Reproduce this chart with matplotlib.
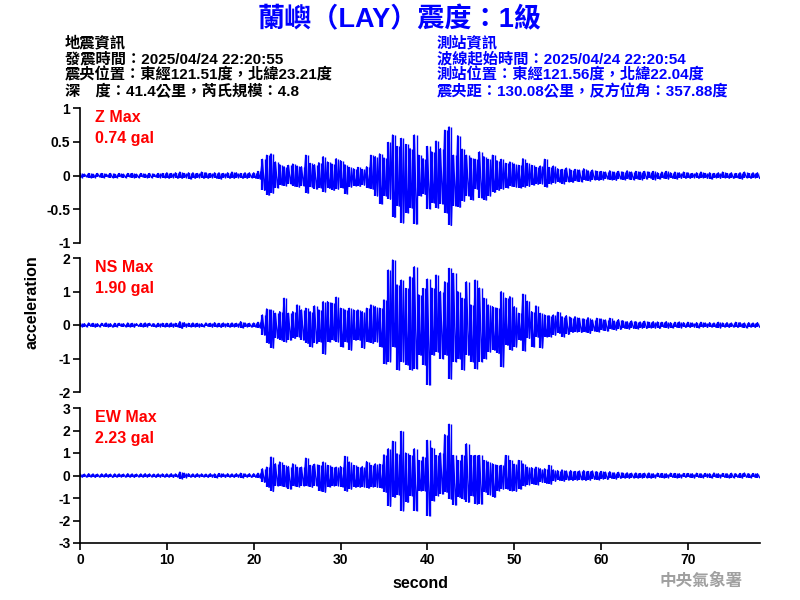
import numpy as np
import matplotlib
matplotlib.use("Agg")
import matplotlib.pyplot as plt

plt.rcParams['font.family'] = ['Liberation Sans', 'Noto Sans CJK TC', 'DejaVu Sans']

# ---- data: envelope peaks, every 0.5 s from 0 to 78 s ----
t_step = 0.5
z_up = [0.03,0.02,0.03,0.02,0.03,0.03,0.02,0.03,0.02,0.03,0.02,0.03,0.03,0.02,0.03,0.02,0.03,0.02,0.03,0.03,
        0.04,0.03,0.04,0.05,0.03,0.04,0.04,0.03,0.05,0.04,0.03,0.04,0.04,0.03,0.04,0.05,0.04,0.03,0.04,0.04,
        0.04,0.06,0.24,0.30,0.32,0.20,0.16,0.13,0.15,0.17,0.14,0.13,0.30,0.18,0.16,0.19,0.28,0.20,0.17,0.25,
        0.22,0.16,0.12,0.10,0.12,0.09,0.13,0.30,0.28,0.32,0.26,0.49,0.60,0.43,0.55,0.46,0.40,0.60,0.30,0.25,
        0.43,0.35,0.51,0.40,0.67,0.72,0.30,0.59,0.39,0.30,0.26,0.24,0.35,0.28,0.24,0.30,0.22,0.24,0.18,0.20,
        0.17,0.15,0.25,0.18,0.15,0.12,0.14,0.24,0.12,0.14,0.10,0.09,0.11,0.08,0.09,0.08,0.10,0.07,0.08,0.06,
        0.06,0.05,0.07,0.05,0.06,0.05,0.07,0.05,0.06,0.05,0.06,0.05,0.06,0.04,0.05,0.06,0.04,0.05,0.04,0.05,
        0.04,0.03,0.04,0.05,0.03,0.04,0.03,0.04,0.05,0.03,0.04,0.03,0.04,0.05,0.03,0.04,0.04]
z_lo = [-0.03,-0.02,-0.03,-0.03,-0.02,-0.03,-0.02,-0.03,-0.03,-0.02,-0.03,-0.02,-0.03,-0.03,-0.02,-0.03,-0.03,-0.02,-0.03,-0.03,
        -0.04,-0.03,-0.04,-0.04,-0.03,-0.05,-0.04,-0.03,-0.04,-0.04,-0.03,-0.04,-0.05,-0.03,-0.04,-0.04,-0.03,-0.04,-0.04,-0.03,
        -0.04,-0.05,-0.22,-0.29,-0.26,-0.18,-0.14,-0.15,-0.12,-0.16,-0.17,-0.15,-0.26,-0.17,-0.20,-0.18,-0.24,-0.19,-0.22,-0.20,
        -0.18,-0.27,-0.17,-0.15,-0.16,-0.14,-0.18,-0.20,-0.30,-0.42,-0.30,-0.35,-0.62,-0.45,-0.70,-0.55,-0.48,-0.72,-0.30,-0.28,
        -0.49,-0.40,-0.48,-0.42,-0.55,-0.74,-0.45,-0.47,-0.38,-0.30,-0.36,-0.20,-0.33,-0.36,-0.30,-0.25,-0.22,-0.20,-0.18,-0.16,
        -0.17,-0.18,-0.17,-0.16,-0.14,-0.13,-0.12,-0.17,-0.12,-0.11,-0.10,-0.12,-0.09,-0.10,-0.08,-0.09,-0.07,-0.08,-0.06,-0.07,
        -0.06,-0.05,-0.06,-0.07,-0.05,-0.06,-0.05,-0.06,-0.05,-0.06,-0.05,-0.04,-0.06,-0.05,-0.04,-0.05,-0.04,-0.05,-0.04,-0.04,
        -0.04,-0.03,-0.04,-0.03,-0.04,-0.05,-0.03,-0.04,-0.03,-0.04,-0.04,-0.03,-0.05,-0.03,-0.04,-0.03,-0.04]
ns_up = [0.05,0.04,0.06,0.05,0.04,0.05,0.06,0.04,0.05,0.05,0.04,0.06,0.05,0.04,0.05,0.06,0.05,0.04,0.05,0.05,
         0.05,0.06,0.05,0.10,0.07,0.05,0.06,0.05,0.04,0.06,0.05,0.07,0.05,0.06,0.05,0.06,0.05,0.10,0.06,0.05,
         0.06,0.08,0.30,0.48,0.45,0.35,0.40,0.80,0.35,0.40,0.60,0.45,0.50,0.40,0.57,0.45,0.70,0.70,0.65,0.83,
         0.50,0.45,0.50,0.45,0.45,0.40,0.50,0.60,0.55,0.50,0.75,1.64,1.94,1.20,1.34,1.09,1.44,1.74,0.90,1.09,
         1.37,1.10,1.49,1.00,1.29,1.69,1.54,1.00,0.80,1.29,0.60,1.34,1.10,0.80,0.60,0.55,0.50,1.00,0.80,0.85,
         0.55,0.35,0.92,0.71,0.40,0.57,0.35,0.30,0.28,0.30,0.38,0.25,0.28,0.22,0.25,0.20,0.18,0.22,0.15,0.20,
         0.18,0.15,0.20,0.12,0.16,0.13,0.10,0.12,0.10,0.09,0.11,0.08,0.10,0.09,0.08,0.10,0.07,0.08,0.09,0.07,
         0.08,0.06,0.07,0.08,0.06,0.07,0.06,0.08,0.06,0.07,0.06,0.08,0.07,0.06,0.07,0.06,0.07]
ns_lo = [-0.05,-0.05,-0.04,-0.06,-0.05,-0.04,-0.05,-0.06,-0.05,-0.04,-0.05,-0.05,-0.06,-0.04,-0.05,-0.05,-0.04,-0.06,-0.05,-0.05,
         -0.05,-0.06,-0.05,-0.10,-0.06,-0.05,-0.05,-0.06,-0.05,-0.04,-0.06,-0.05,-0.07,-0.05,-0.06,-0.05,-0.06,-0.08,-0.05,-0.06,
         -0.06,-0.08,-0.30,-0.55,-0.68,-0.40,-0.45,-0.50,-0.45,-0.40,-0.35,-0.45,-0.55,-0.65,-0.55,-0.50,-0.87,-0.50,-0.45,-0.50,
         -0.65,-0.50,-0.75,-0.45,-0.45,-0.70,-0.50,-0.55,-0.50,-0.65,-1.15,-1.09,-0.65,-1.34,-1.09,-1.19,-1.34,-1.30,-0.90,-1.19,
         -1.79,-0.90,-0.80,-1.00,-0.90,-1.61,-1.09,-1.00,-1.34,-0.90,-1.09,-1.30,-1.09,-1.00,-0.80,-0.75,-0.85,-1.24,-0.60,-0.75,
         -0.65,-0.45,-0.77,-0.40,-0.65,-0.36,-0.68,-0.35,-0.35,-0.30,-0.25,-0.35,-0.28,-0.22,-0.20,-0.22,-0.20,-0.25,-0.18,-0.20,
         -0.15,-0.18,-0.12,-0.15,-0.13,-0.10,-0.12,-0.10,-0.11,-0.09,-0.10,-0.08,-0.09,-0.10,-0.07,-0.09,-0.08,-0.07,-0.08,-0.07,
         -0.07,-0.06,-0.08,-0.06,-0.07,-0.06,-0.07,-0.08,-0.06,-0.07,-0.06,-0.07,-0.06,-0.08,-0.06,-0.07,-0.06]
ew_up = [0.07,0.06,0.08,0.07,0.06,0.07,0.08,0.06,0.07,0.07,0.06,0.08,0.07,0.06,0.07,0.08,0.07,0.06,0.07,0.07,
         0.07,0.08,0.07,0.15,0.10,0.08,0.07,0.08,0.07,0.06,0.08,0.07,0.09,0.07,0.08,0.07,0.08,0.10,0.07,0.08,
         0.08,0.10,0.30,0.37,0.82,0.52,0.60,0.45,0.40,0.52,0.37,0.37,0.77,0.45,0.50,0.45,0.60,0.45,0.37,0.37,
         0.40,0.85,0.60,0.45,0.37,0.40,0.62,0.45,0.52,0.50,0.92,1.19,1.52,0.97,1.96,1.00,0.89,1.19,0.67,0.82,
         1.56,1.22,0.89,1.00,1.82,2.28,0.89,0.67,0.90,1.41,0.89,0.89,0.89,0.67,0.60,0.52,0.45,0.45,0.89,0.67,
         0.50,0.67,0.52,0.37,0.35,0.37,0.30,0.30,0.45,0.25,0.22,0.25,0.20,0.22,0.18,0.20,0.22,0.18,0.20,0.17,
         0.18,0.15,0.17,0.12,0.14,0.11,0.12,0.10,0.11,0.09,0.10,0.11,0.08,0.10,0.09,0.08,0.10,0.09,0.08,0.09,
         0.09,0.08,0.10,0.08,0.09,0.08,0.11,0.08,0.09,0.08,0.10,0.08,0.09,0.11,0.08,0.09,0.08]
ew_lo = [-0.07,-0.07,-0.06,-0.08,-0.07,-0.06,-0.07,-0.08,-0.07,-0.06,-0.07,-0.07,-0.08,-0.06,-0.07,-0.07,-0.06,-0.08,-0.07,-0.07,
         -0.07,-0.08,-0.07,-0.14,-0.09,-0.07,-0.08,-0.07,-0.06,-0.08,-0.07,-0.09,-0.07,-0.08,-0.07,-0.08,-0.07,-0.09,-0.07,-0.08,
         -0.08,-0.10,-0.30,-0.52,-0.71,-0.45,-0.45,-0.50,-0.60,-0.45,-0.50,-0.45,-0.45,-0.52,-0.45,-0.67,-0.74,-0.50,-0.45,-0.45,
         -0.50,-0.70,-0.60,-0.52,-0.52,-0.50,-0.56,-0.50,-0.52,-0.55,-0.74,-1.37,-0.97,-0.85,-1.56,-1.19,-0.89,-1.56,-0.67,-0.67,
         -1.79,-1.12,-0.89,-0.82,-0.74,-1.04,-1.31,-0.97,-1.05,-1.19,-0.89,-1.27,-1.27,-0.74,-0.85,-0.97,-0.67,-0.60,-0.60,-0.67,
         -0.70,-0.60,-0.45,-0.40,-0.38,-0.40,-0.30,-0.35,-0.38,-0.25,-0.22,-0.25,-0.20,-0.22,-0.20,-0.18,-0.22,-0.20,-0.17,-0.18,
         -0.15,-0.17,-0.13,-0.15,-0.12,-0.11,-0.12,-0.10,-0.11,-0.10,-0.09,-0.11,-0.10,-0.08,-0.10,-0.09,-0.08,-0.10,-0.09,-0.08,
         -0.08,-0.10,-0.08,-0.09,-0.08,-0.10,-0.08,-0.09,-0.08,-0.10,-0.09,-0.08,-0.10,-0.08,-0.09,-0.08,-0.09]

components = ["Z", "NS", "EW"]
max_values = ["0.74", "1.90", "2.23"]
y_limits = [1, 2, 3]
y_ticks = [[1, 0.5, 0, -0.5, -1], [2, 1, 0, -1, -2], [3, 2, 1, 0, -1, -2, -3]]
x_ticks = [0, 10, 20, 30, 40, 50, 60, 70]

title = "蘭嶼（LAY）震度：1級"
quake_info = ["地震資訊", "發震時間：2025/04/24 22:20:55",
              "震央位置：東經121.51度，北緯23.21度", "深　度：41.4公里，芮氏規模：4.8"]
station_info = ["測站資訊", "波線起始時間：2025/04/24 22:20:54",
                "測站位置：東經121.56度，北緯22.04度", "震央距：130.08公里，反方位角：357.88度"]
agency = "中央氣象署"

# ---- figure ----
fig = plt.figure(figsize=(8, 6), dpi=100)
fig.patch.set_facecolor("white")

fig.text(0.5, 1 - 20/600, title, ha="center", va="center", color="#0000ff",
         fontsize=19.5, fontweight="bold")
for i, s in enumerate(quake_info):
    fig.text(65/800, 1 - (43 + 16*i)/600, s, ha="left", va="center", color="black",
             fontsize=11, fontweight="bold")
for i, s in enumerate(station_info):
    fig.text(437/800, 1 - (43 + 16*i)/600, s, ha="left", va="center", color="#0000ff",
             fontsize=11, fontweight="bold")

panel_px = [(108, 243), (258, 392), (408, 543)]
left, right = 80/800, 760/800
traces = [(z_up, z_lo), (ns_up, ns_lo), (ew_up, ew_lo)]

axes = []
for k, (top_px, bot_px) in enumerate(panel_px):
    ax = fig.add_axes([left, 1 - bot_px/600, right - left, (bot_px - top_px)/600])
    up, lo = traces[k]
    n = len(up)
    tu = np.arange(n) * t_step
    tl = tu + t_step / 2
    tt = np.empty(2*n); yy = np.empty(2*n)
    tt[0::2] = tu; tt[1::2] = tl
    yy[0::2] = up; yy[1::2] = lo
    ax.plot(tt, yy, color="#0000ff", lw=1.0)
    ax.vlines(tu, lo, up, color="#0000ff", lw=1.6)
    ax.vlines(tl, lo, up, color="#0000ff", lw=1.0)
    ax.set_xlim(0, 78.3)
    ax.set_ylim(-y_limits[k], y_limits[k])
    ax.set_yticks(y_ticks[k])
    ax.set_yticklabels([("%g" % v) for v in y_ticks[k]], fontweight="bold", fontsize=10)
    for sp in ["top", "right"]:
        ax.spines[sp].set_visible(False)
    ax.spines["left"].set_linewidth(1.2)
    ax.tick_params(axis="y", length=5, width=1.2, pad=2)
    if k < 2:
        ax.spines["bottom"].set_visible(False)
        ax.set_xticks([])
    else:
        ax.spines["bottom"].set_linewidth(1.2)
        ax.set_xticks(x_ticks)
        ax.set_xticklabels([str(v) for v in x_ticks], fontweight="bold", fontsize=10)
        ax.tick_params(axis="x", length=5, width=1.2, pad=2)
        ax.set_xlabel("second", fontsize=11.5, fontweight="bold", labelpad=7)
    ax.text(95/800, 1 - (top_px + 10)/600, components[k] + " Max", transform=fig.transFigure,
            color="#ff0000", fontsize=11.5, fontweight="bold", ha="left", va="center")
    ax.text(95/800, 1 - (top_px + 30)/600, max_values[k] + " gal", transform=fig.transFigure,
            color="#ff0000", fontsize=11.5, fontweight="bold", ha="left", va="center")
    ax.patch.set_alpha(0)
    axes.append(ax)

fig.text(32/800, 1 - 302/600, "acceleration", rotation=90, ha="center", va="center",
         fontsize=11.5, fontweight="bold")
fig.text(701/800, 1 - 581/600, agency, ha="center", va="center", color="#a0a0a0",
         fontsize=12, fontweight="bold")

fig.savefig("out.png", dpi=100)
